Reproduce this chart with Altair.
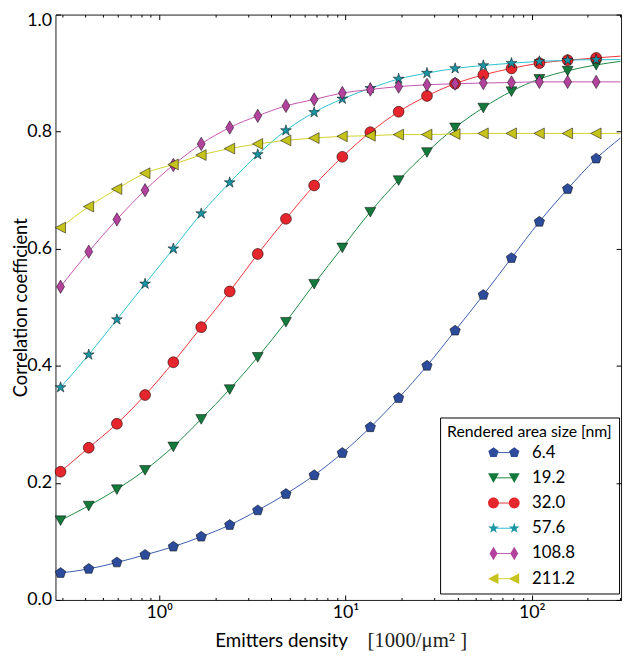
import altair as alt
import pandas as pd

SANS = "Lato"
SERIF = "Liberation Serif"

SERIES = ["6.4", "19.2", "32.0", "57.6", "108.8", "211.2"]
DENSITY = [0.295, 0.418, 0.592, 0.839, 1.19, 1.68, 2.39, 3.38, 4.79, 6.79,
           9.62, 13.6, 19.3, 27.4, 38.8, 55.0, 77.9, 110.0, 156.0, 222.0]
DENSITY_END = 300.0

CORR_6_4 = [0.046, 0.053, 0.064, 0.077, 0.091, 0.108, 0.128, 0.153, 0.181, 0.213,
            0.251, 0.295, 0.345, 0.400, 0.460, 0.521, 0.584, 0.646, 0.702, 0.754]
CORR_19_2 = [0.136, 0.161, 0.189, 0.222, 0.262, 0.309, 0.360, 0.415, 0.475, 0.540,
             0.602, 0.663, 0.717, 0.765, 0.807, 0.841, 0.869, 0.890, 0.904, 0.914]
CORR_32_0 = [0.219, 0.260, 0.301, 0.350, 0.406, 0.466, 0.527, 0.591, 0.651, 0.708,
             0.757, 0.799, 0.834, 0.861, 0.882, 0.897, 0.908, 0.917, 0.922, 0.926]
CORR_57_6 = [0.363, 0.419, 0.479, 0.540, 0.600, 0.660, 0.713, 0.761, 0.802, 0.833,
             0.856, 0.874, 0.890, 0.900, 0.908, 0.913, 0.917, 0.920, 0.922, 0.923]
CORR_108_8 = [0.535, 0.595, 0.650, 0.700, 0.743, 0.779, 0.807, 0.827, 0.844, 0.855,
              0.866, 0.872, 0.877, 0.880, 0.882, 0.883, 0.884, 0.885, 0.885, 0.885]
CORR_211_2 = [0.636, 0.672, 0.702, 0.729, 0.744, 0.760, 0.771, 0.779, 0.785, 0.789,
              0.792, 0.793, 0.795, 0.795, 0.796, 0.797, 0.797, 0.797, 0.797, 0.797]
CORR_END = [0.789, 0.920, 0.929, 0.923, 0.885, 0.797]

MARKER_COLORS = ["#2c4b9b", "#137a3c", "#e5262d", "#1a95a5", "#b2429c", "#c6c31c"]
LINE_COLORS = ["#3c5cb0", "#1c8a45", "#ee3538", "#2cc0cf", "#c255ad", "#d2cf2a"]

Y_TICKS = [0.0, 0.2, 0.4, 0.6, 0.8, 1.0]
X_MAJOR = [1, 10, 100]
X_MINOR = [0.3, 0.4, 0.5, 0.6, 0.7, 0.8, 0.9, 2, 3, 4, 5, 6, 7, 8, 9,
           20, 30, 40, 50, 60, 70, 80, 90, 200, 300]

CORR_LISTS = [CORR_6_4, CORR_19_2, CORR_32_0, CORR_57_6, CORR_108_8, CORR_211_2]

rows = []
for s, vals in zip(SERIES, CORR_LISTS):
    for d, v in zip(DENSITY, vals):
        rows.append({"series": s, "density": d, "corr": v})
pts = pd.DataFrame(rows)
line_rows = rows + [{"series": s, "density": DENSITY_END, "corr": e}
                    for s, e in zip(SERIES, CORR_END)]
lines = pd.DataFrame(line_rows)

# ---- marker geometry (unit space) ----
PENT_PTS = [(0, -1.1), (1.046, -0.34), (0.647, 0.89), (-0.647, 0.89), (-1.046, -0.34)]
TRI_DOWN_PTS = [(-1.1, -0.9), (1.1, -0.9), (0, 1.05)]
STAR_PTS = [(0, -1.15), (0.258, -0.355), (1.094, -0.355), (0.418, 0.136), (0.676, 0.93),
            (0, 0.44), (-0.676, 0.93), (-0.418, 0.136), (-1.094, -0.355), (-0.258, -0.355)]
DIAM_PTS = [(0, -1.35), (0.8, 0), (0, 1.35), (-0.8, 0)]
TRI_LEFT_PTS = [(-1.1, 0), (1.0, -1.1), (1.0, 1.1)]
CIRC_R = 1.1


def poly(p, dx=0.0):
    return "M" + "L".join(f"{x + dx:.3f},{y:.3f}" for x, y in p) + "Z"


def circ(r, dx=0.0):
    return (f"M{dx + r:.3f},0A{r},{r} 0 1,1 {dx - r:.3f},0"
            f"A{r},{r} 0 1,1 {dx + r:.3f},0Z")


def shape(i, dx=0.0):
    return [lambda d: poly(PENT_PTS, d), lambda d: poly(TRI_DOWN_PTS, d),
            lambda d: circ(CIRC_R, d), lambda d: poly(STAR_PTS, d),
            lambda d: poly(DIAM_PTS, d), lambda d: poly(TRI_LEFT_PTS, d)][i](dx)


SHAPES = [shape(i) for i in range(6)]
LEG_SHAPES = [shape(i, -2.1) + shape(i, 2.1) for i in range(6)]

LEG_COMMON = dict(orient="none", legendX=389, legendY=407.5,
                  title="Rendered area size [nm]", titleFont=SANS, titleFontSize=16,
                  titleFontWeight="normal", titleColor="black", titlePadding=4,
                  padding=7, labelFont=SANS, labelFontSize=17, labelColor="black",
                  symbolSize=100, symbolOffset=49, labelOffset=20, rowPadding=7.5)

LEG_LINE = alt.Legend(symbolType="M-2.1,0L2.1,0", symbolStrokeWidth=1,
                      titleOpacity=0, labelOpacity=0, **LEG_COMMON)
LEG_MARK = alt.Legend(symbolStrokeColor="black", symbolStrokeWidth=0.5,
                      symbolOpacity=1, strokeColor="black", **LEG_COMMON)

xscale = alt.Scale(type="log", domain=[0.277, 302], nice=False)
yscale = alt.Scale(domain=[0, 1], nice=False, zero=False)

AX = dict(domain=False, grid=False, tickColor="black", tickWidth=1)

ax_bottom_major = alt.Axis(
    orient="bottom", values=X_MAJOR, tickSize=5, offset=-5, labelPadding=4,
    labelExpr="datum.value == 1 ? '10⁰' : datum.value == 10 ? '10¹' : '10²'",
    labelFont=SANS, labelFontSize=18, labelColor="black",
    title="Emitters  density", titleX=161, titleY=52, titleAlign="left",
    titleBaseline="alphabetic", titleFont=SANS, titleFontSize=19,
    titleFontWeight="normal", titleColor="black", **AX)
ax_left = alt.Axis(
    orient="left", values=Y_TICKS, format=".1f", tickSize=5, offset=-5, labelPadding=4,
    labelOffset={"condition": {"test": "datum.value == 1", "value": 6}, "value": 0},
    labelFont=SANS, labelFontSize=18, labelColor="black",
    title="Correlation  coefficient", titleX=-40, titleY=296, titleAngle=-90,
    titleAlign="center", titleBaseline="middle", titleFont=SANS, titleFontSize=18.5,
    titleFontWeight="normal", titleColor="black", **AX)
ax_top_major = alt.Axis(orient="top", values=X_MAJOR, labels=False, tickSize=5,
                        offset=-5, title=None, **AX)
ax_right = alt.Axis(orient="right", values=Y_TICKS, labels=False, tickSize=5,
                    offset=-5, title=None, **AX)
ax_bottom_minor = alt.Axis(
    orient="bottom", values=X_MINOR, labels=False, tickSize=2.5, offset=-2.5,
    title="[1000/μm² ]", titleX=315, titleY=49.5, titleAlign="left",
    titleBaseline="alphabetic", titleFont=SERIF, titleFontSize=21,
    titleFontWeight="normal", titleColor="#222222", **AX)
ax_top_minor = alt.Axis(orient="top", values=X_MINOR, labels=False, tickSize=2.5,
                        offset=-2.5, title=None, **AX)

line_layer = alt.Chart(lines).mark_line(strokeWidth=1, interpolate="monotone").encode(
    x=alt.X("density:Q", scale=xscale, axis=ax_bottom_major),
    y=alt.Y("corr:Q", scale=yscale, axis=ax_left),
    color=alt.Color("series:N", scale=alt.Scale(domain=SERIES, range=LINE_COLORS),
                    legend=LEG_LINE),
)

point_layer = alt.Chart(pts).mark_point(
    filled=True, size=100, opacity=1, stroke="black", strokeWidth=0.5
).encode(
    x=alt.X("density:Q", scale=xscale, axis=ax_top_major),
    y=alt.Y("corr:Q", scale=yscale, axis=ax_right),
    color=alt.Color("series:N", scale=alt.Scale(domain=SERIES, range=MARKER_COLORS),
                    legend=None),
    shape=alt.Shape("series:N", scale=alt.Scale(domain=SERIES, range=SHAPES),
                    legend=None),
    order=alt.Order("series_idx:Q"),
).transform_calculate(series_idx="indexof(%s, datum.series)" % str(SERIES))

legend_layer = alt.Chart(pts).transform_filter("false").mark_point(
    filled=True, size=100, opacity=1, stroke="black", strokeWidth=0.5
).encode(
    x=alt.X("density:Q", scale=xscale, axis=ax_bottom_minor),
    y=alt.Y("corr:Q", scale=yscale, axis=None),
    color=alt.Color("series:N", scale=alt.Scale(domain=SERIES, range=MARKER_COLORS),
                    legend=LEG_MARK),
    shape=alt.Shape("series:N", scale=alt.Scale(domain=SERIES, range=LEG_SHAPES),
                    legend=LEG_MARK),
)

top_minor_layer = alt.Chart(pts).transform_filter("false").mark_point().encode(
    x=alt.X("density:Q", scale=xscale, axis=ax_top_minor),
    y=alt.Y("corr:Q", scale=yscale, axis=None),
)

chart = alt.layer(line_layer, point_layer, legend_layer, top_minor_layer).resolve_scale(
    color="independent", shape="independent"
).resolve_axis(
    x="independent", y="independent"
).properties(
    width=572, height=592,
    padding={"left": 48, "top": 3, "right": 4, "bottom": 48},
    autosize=alt.AutoSizeParams(type="none"),
    background="white",
).configure_view(stroke="#1a1a1a", strokeWidth=1)

chart.save("out.html", embed_options={"renderer": "svg", "actions": False})
